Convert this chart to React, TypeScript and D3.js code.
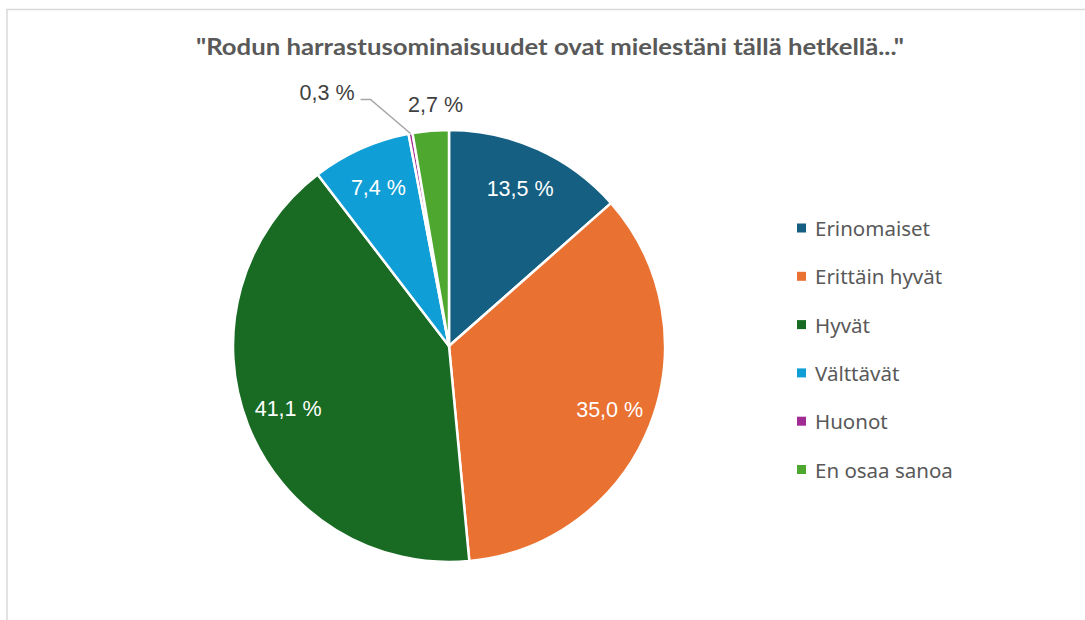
import React from "react";
import * as d3 from "d3";

const title = '"Rodun harrastusominaisuudet ovat mielestäni tällä hetkellä..."';
const categories = ["Erinomaiset", "Erittäin hyvät", "Hyvät", "Välttävät", "Huonot", "En osaa sanoa"];
const values = [13.5, 35.0, 41.1, 7.4, 0.3, 2.7];
const colors = ["#156082", "#e97132", "#196b24", "#0f9ed5", "#a02b93", "#4ea72e"];
const labelOutside = [false, false, false, false, true, true];

const W = 1085;
const H = 620;
const cx = 449;
const cy = 346;
const R = 216;

const labelFont = "'Liberation Sans', Arial, sans-serif";
const labelSize = 21.5;

const fmt = (v: number) => v.toFixed(1).replace(".", ",") + " %";

export default function App() {
  const pie = d3.pie<number>().sort(null).value((d) => d)(values);
  const arc = d3.arc<d3.PieArcDatum<number>>().innerRadius(0).outerRadius(R);
  const labelArc = d3.arc<d3.PieArcDatum<number>>().innerRadius(R * 0.8).outerRadius(R * 0.8);
  const outerArc = d3.arc<d3.PieArcDatum<number>>().innerRadius(R * 1.12).outerRadius(R * 1.12);
  const edgeArc = d3.arc<d3.PieArcDatum<number>>().innerRadius(R).outerRadius(R);

  const legendX = 797;
  const legendY0 = 228;
  const legendStep = 48.3;

  return (
    <svg width={W} height={H} style={{ position: "absolute", left: 0, top: 0 }}>
      <rect x={0} y={0} width={W} height={H} fill="#ffffff" />
      <rect x={7} y={9.5} width={W + 20} height={H + 20} fill="none" stroke="#d9d9d9" strokeWidth={1.5} />
      <text
        x={550}
        y={54.5}
        textAnchor="middle"
        fontFamily="'Liberation Sans Narrow', Lato, 'Open Sans', sans-serif"
        fontWeight={700}
        fontSize={23}
        fill="#595959"
        textLength={708}
        lengthAdjust="spacingAndGlyphs"
      >
        {title}
      </text>
      <g transform={`translate(${cx},${cy})`}>
        {pie.map((p, i) => (
          <path key={i} d={arc(p) || ""} fill={colors[i]} stroke="#ffffff" strokeWidth={2.5} strokeLinejoin="round" />
        ))}
        {pie.map((p, i) => {
          if (!labelOutside[i]) {
            const [x, y] = labelArc.centroid(p);
            return (
              <text
                key={"l" + i}
                x={x}
                y={y}
                textAnchor="middle"
                dominantBaseline="central"
                fontFamily={labelFont}
                fontSize={labelSize}
                fill="#ffffff"
              >
                {fmt(values[i])}
              </text>
            );
          }
          return null;
        })}
        {(() => {
          const p = pie[4];
          const [ex, ey] = edgeArc.centroid(p);
          const elbowX = ex - 40;
          const elbowY = ey - 34;
          const endX = elbowX - 10;
          return (
            <g>
              <polyline
                points={`${ex},${ey} ${elbowX},${elbowY} ${endX},${elbowY}`}
                fill="none"
                stroke="#a6a6a6"
                strokeWidth={1.5}
              />
              <text
                x={endX - 6}
                y={elbowY - 6}
                textAnchor="end"
                dominantBaseline="central"
                fontFamily={labelFont}
                fontSize={labelSize}
                fill="#404040"
              >
                {fmt(values[4])}
              </text>
            </g>
          );
        })()}
        {(() => {
          const p = pie[5];
          const [x, y] = outerArc.centroid(p);
          return (
            <text
              x={x + 7}
              y={y}
              textAnchor="middle"
              dominantBaseline="central"
              fontFamily={labelFont}
              fontSize={labelSize}
              fill="#404040"
            >
              {fmt(values[5])}
            </text>
          );
        })()}
      </g>
      <g>
        {categories.map((c, i) => (
          <g key={c} transform={`translate(${legendX},${legendY0 + i * legendStep})`}>
            <rect x={0} y={-4.5} width={9} height={9} fill={colors[i]} />
            <text
              x={18}
              y={0}
              dominantBaseline="central"
              fontFamily="'Noto Sans', 'Open Sans', sans-serif"
              fontSize={20.5}
              fill="#595959"
            >
              {c}
            </text>
          </g>
        ))}
      </g>
    </svg>
  );
}
